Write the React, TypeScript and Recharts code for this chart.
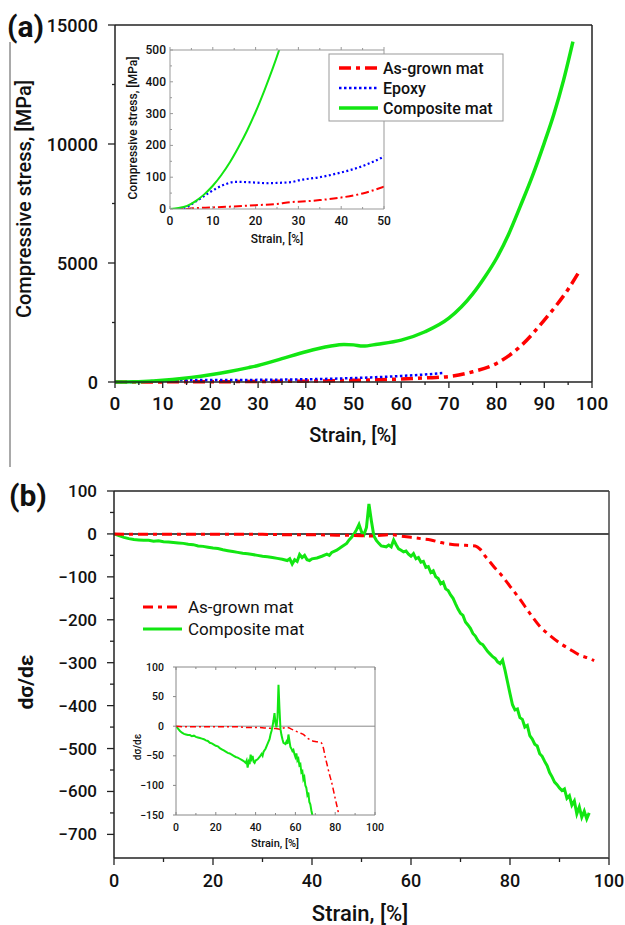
import React from 'react';
import { LineChart, Line, XAxis, YAxis, ReferenceLine } from 'recharts';

const FONT = 'Roboto, "DejaVu Sans", sans-serif';

// ---------- Panel (a): compressive stress vs strain, [strain %, stress MPa]
const COMPOSITE_A: [number, number][] = [
  [0, 0], [2, 3], [4, 10], [6, 25], [8, 46], [10, 73], [12, 107], [14, 147], [16, 194], [18, 246],
  [20, 305], [22, 371], [24, 442], [26, 520], [28, 605], [30, 695], [35, 980], [40, 1270], [45, 1500],
  [48, 1580], [50, 1560], [52, 1510], [55, 1590], [60, 1760], [65, 2110], [70, 2680], [75, 3700],
  [77.5, 4400], [80, 5200], [82.5, 6200], [85, 7400], [87.5, 8650], [90, 10050], [92, 11250],
  [94, 12650], [96, 14300],
];
const EPOXY_A: [number, number][] = [
  [0, 0], [2, 0], [3.5, 3], [5, 15], [7, 32], [9, 50], [11, 66], [13, 78], [15, 85], [17, 85],
  [20, 83], [23, 81], [25, 82], [28.5, 85], [30, 90], [35, 100], [40, 115], [45, 135], [50, 165],
  [55, 205], [60, 255], [65, 315], [69, 380],
];
const ASGROWN_A: [number, number][] = [
  [0, 0], [3.5, 0], [5, 2], [10, 5], [13, 7], [15, 8], [20, 12], [25, 16], [28.5, 22], [30, 23],
  [35, 28], [40, 36], [45, 49], [50, 70], [55, 95], [60, 125], [65, 170], [70, 230], [75, 430],
  [80, 780], [85, 1500], [90, 2600], [95, 3900], [97.5, 4700],
];

// ---------- Panel (b): dσ/dε vs strain
const COMPOSITE_B: [number, number][] = [
  [0, 0], [1, -4], [2, -8], [3, -11], [4, -13], [5, -14], [6, -15], [7, -15], [8, -17], [9, -16],
  [10, -18], [11, -19], [12, -20], [13, -21], [14, -22], [15, -24], [16, -25], [17, -28], [18, -29],
  [19, -31], [20, -33], [21, -34], [22, -37], [23, -39], [24, -41], [25, -43], [26, -45], [27, -46],
  [28, -48], [29, -50], [30, -52], [31, -53], [32, -55], [33, -57], [34, -59], [35, -62], [35.5, -58],
  [36, -70], [36.5, -60], [37, -64], [37.5, -48], [38, -55], [38.5, -50], [39, -60], [39.5, -62],
  [40, -58], [41, -56], [42, -52], [43, -47], [43.5, -50], [44, -43], [45, -38], [46, -30], [47, -22],
  [47.5, -14], [48, -8], [48.5, 0], [49, 10], [49.5, 22], [50, 5], [50.5, -2], [51, 15], [51.5, 70],
  [52, 30], [52.5, -5], [53, -15], [53.5, -22], [54, -28], [55, -30], [55.5, -26], [56, -30],
  [56.5, -14], [57, -25], [57.5, -35], [58, -38], [58.5, -42], [59, -40], [59.5, -47], [60, -52],
  [60.5, -46], [61, -58], [61.5, -55], [62, -66], [62.5, -64], [63, -78], [63.5, -76], [64, -90],
  [64.5, -86], [65, -100], [65.5, -104], [66, -116], [66.5, -112], [67, -128], [67.5, -132],
  [68, -142], [68.5, -150], [69, -163], [69.5, -175], [70, -185], [70.5, -190], [71, -205],
  [71.5, -212], [72, -220], [72.5, -232], [73, -238], [73.5, -248], [74, -255], [74.5, -258],
  [75, -266], [75.5, -274], [76, -280], [76.5, -286], [77, -290], [77.5, -298], [78, -302],
  [78.5, -294], [79, -318], [79.5, -345], [80, -372], [80.5, -398], [81, -410], [81.5, -408],
  [82, -428], [82.5, -432], [83, -450], [83.5, -446], [84, -470], [84.5, -478], [85, -490],
  [85.5, -494], [86, -512], [86.5, -518], [87, -530], [87.5, -540], [88, -556], [88.5, -566],
  [89, -578], [89.5, -584], [90, -592], [90.5, -598], [91, -594], [91.5, -616], [92, -610],
  [92.5, -632], [93, -622], [93.5, -652], [94, -636], [94.5, -660], [95, -646], [95.5, -664],
  [96, -650],
];
const ASGROWN_B: [number, number][] = [
  [0, 0], [5, -1], [10, -1], [15, -1], [20, -1], [25, -1], [30, -1], [35, -2], [40, -2], [45, -3],
  [50, -4], [52, -5], [54, -3], [56, -2], [58, -5], [60, -8], [62, -11], [64, -14], [66, -20],
  [68, -24], [70, -26], [72, -27], [73, -28], [74, -36], [75, -52], [76, -66], [77, -80], [78, -92],
  [80, -122], [82, -152], [84, -185], [86, -215], [88, -236], [90, -254], [92, -268], [94, -282],
  [96, -290], [97, -295],
];

// ---------- tick values
const A_X_TICKS = [0, 5, 10, 15, 20, 25, 30, 35, 40, 45, 50, 55, 60, 65, 70, 75, 80, 85, 90, 95, 100];
const A_Y_TICKS = [0, 2500, 5000, 7500, 10000, 12500, 15000];
const AI_X_TICKS = [0, 5, 10, 15, 20, 25, 30, 35, 40, 45, 50];
const AI_Y_TICKS = [0, 50, 100, 150, 200, 250, 300, 350, 400, 450, 500];
const B_X_TICKS = [0, 10, 20, 30, 40, 50, 60, 70, 80, 90, 100];
const B_Y_TICKS = [100, 50, 0, -50, -100, -150, -200, -250, -300, -350, -400, -450, -500, -550, -600, -650, -700];
const BI_X_TICKS = [0, 10, 20, 30, 40, 50, 60, 70, 80, 90, 100];
const BI_Y_TICKS = [100, 50, 0, -50, -100, -150];

const pts = (a: [number, number][]) => a.map(([x, y]) => ({ x, y }));

const RED = '#ff0000';
const BLUE = '#0000ff';
const GREEN = '#12e612';

type TickCfg = {
  side: 'bottom' | 'top' | 'left' | 'right';
  step: number;
  major: number;
  minor: number;
  out: boolean;
  label: boolean;
  off: number;
  size: number;
  weight: number;
  color: string;
  lw: number;
};

const fmt = (v: number) => (v < 0 ? '\u2212' + Math.abs(v) : String(v));

function tickFn(c: TickCfg) {
  return (p: any) => {
    const { x, y, payload } = p;
    const v = Number(payload.value);
    const isMajor = Math.abs(v / c.step - Math.round(v / c.step)) < 1e-6;
    const len = isMajor ? c.major : c.minor;
    const d = c.out ? 1 : -1;
    let x2 = x, y2 = y, tx = x, ty = y;
    let anchor: any = 'middle';
    if (c.side === 'bottom') { y2 = y + d * len; ty = y + c.off; }
    else if (c.side === 'top') { y2 = y - d * len; ty = y - c.off; }
    else if (c.side === 'left') { x2 = x - d * len; tx = x - c.off; anchor = 'end'; }
    else { x2 = x + d * len; tx = x + c.off; anchor = 'start'; }
    return (
      <g>
        {len > 0 && <line x1={x} y1={y} x2={x2} y2={y2} stroke={c.color} strokeWidth={c.lw} />}
        {c.label && isMajor && (
          <text x={tx} y={ty} textAnchor={anchor} dominantBaseline="central" fontFamily={FONT}
            fontSize={c.size} fontWeight={c.weight} fill="#111">{fmt(v)}</text>
        )}
      </g>
    );
  };
}

const base = { size: 17, weight: 500, color: '#222', lw: 1.3 };

function ChartA() {
  const ax = { stroke: '#222', strokeWidth: 1.5 };
  return (
    <div style={{ position: 'absolute', left: 0, top: 0 }}>
      <LineChart width={625} height={460} margin={{ top: 24, right: 32, bottom: 0, left: 0 }}>
        <XAxis xAxisId="b" dataKey="x" type="number" domain={[0, 100]} ticks={A_X_TICKS} interval={0}
          height={78} tickSize={0} tickMargin={0} axisLine={ax} tickLine={false}
          tick={tickFn({ ...base, side: 'bottom', step: 10, major: 6, minor: 3, out: true, label: true, off: 21, size: 19 })} />
        <XAxis xAxisId="t" orientation="top" dataKey="x" type="number" domain={[0, 100]} ticks={A_X_TICKS} interval={0}
          height={1} tickSize={0} tickMargin={0} axisLine={ax} tickLine={false}
          tick={tickFn({ ...base, side: 'top', step: 10, major: 6, minor: 3, out: true, label: false, off: 0 })} />
        <YAxis yAxisId="l" type="number" domain={[0, 15000]} ticks={A_Y_TICKS} interval={0} width={115}
          tickSize={0} tickMargin={0} axisLine={ax} tickLine={false}
          tick={tickFn({ ...base, side: 'left', step: 5000, major: 7, minor: 3, out: true, label: true, off: 17, size: 18 })} />
        <YAxis yAxisId="r" orientation="right" type="number" domain={[0, 15000]} width={1}
          axisLine={ax} tick={false} tickLine={false} />
        <Line xAxisId="b" yAxisId="l" data={pts(ASGROWN_A)} dataKey="y" type="monotone" stroke={RED}
          strokeWidth={3.5} strokeDasharray="12 5 4 5" dot={false} isAnimationActive={false} />
        <Line xAxisId="b" yAxisId="l" data={pts(EPOXY_A)} dataKey="y" type="monotone" stroke={BLUE}
          strokeWidth={2.5} strokeDasharray="2.5 2.5" dot={false} isAnimationActive={false} />
        <Line xAxisId="b" yAxisId="l" data={pts(COMPOSITE_A)} dataKey="y" type="monotone" stroke={GREEN}
          strokeWidth={3.5} dot={false} isAnimationActive={false} />
      </LineChart>
    </div>
  );
}

function InsetA() {
  const ax = { stroke: '#999', strokeWidth: 1 };
  const ib = { size: 12, weight: 500, color: '#999', lw: 1 };
  return (
    <div style={{ position: 'absolute', left: 110, top: 40 }}>
      <LineChart width={290} height={200} margin={{ top: 9, right: 15, bottom: 0, left: 0 }}>
        <XAxis xAxisId="b" dataKey="x" type="number" domain={[0, 50]} ticks={AI_X_TICKS} interval={0}
          allowDataOverflow height={31} tickSize={0} tickMargin={0} axisLine={ax} tickLine={false}
          tick={tickFn({ ...ib, side: 'bottom', step: 10, major: 3, minor: 2, out: false, label: true, off: 12 })} />
        <XAxis xAxisId="t" orientation="top" dataKey="x" type="number" domain={[0, 50]} ticks={AI_X_TICKS} interval={0}
          allowDataOverflow height={1} tickSize={0} tickMargin={0} axisLine={ax} tickLine={false}
          tick={tickFn({ ...ib, side: 'top', step: 10, major: 3, minor: 2, out: true, label: false, off: 0 })} />
        <YAxis yAxisId="l" type="number" domain={[0, 500]} ticks={AI_Y_TICKS} interval={0} width={60}
          allowDataOverflow tickSize={0} tickMargin={0} axisLine={ax} tickLine={false}
          tick={tickFn({ ...ib, side: 'left', step: 100, major: 3, minor: 2, out: false, label: true, off: 4 })} />
        <YAxis yAxisId="r" orientation="right" type="number" domain={[0, 500]} width={1} allowDataOverflow
          axisLine={ax} tick={false} tickLine={false} />
        <Line xAxisId="b" yAxisId="l" data={pts(ASGROWN_A)} dataKey="y" type="monotone" stroke={RED}
          strokeWidth={2} strokeDasharray="8 3 2 3" dot={false} isAnimationActive={false} />
        <Line xAxisId="b" yAxisId="l" data={pts(EPOXY_A)} dataKey="y" type="monotone" stroke={BLUE}
          strokeWidth={2.2} strokeDasharray="2 2.5" dot={false} isAnimationActive={false} />
        <Line xAxisId="b" yAxisId="l" data={pts(COMPOSITE_A)} dataKey="y" type="monotone" stroke={GREEN}
          strokeWidth={2} dot={false} isAnimationActive={false} />
      </LineChart>
    </div>
  );
}

function ChartB() {
  const ax = { stroke: '#222', strokeWidth: 1.5 };
  return (
    <div style={{ position: 'absolute', left: 0, top: 470 }}>
      <LineChart width={625} height={430} margin={{ top: 20, right: 15, bottom: 0, left: 0 }}>
        <XAxis xAxisId="b" dataKey="x" type="number" domain={[0, 100]} ticks={B_X_TICKS} interval={0}
          height={42} tickSize={0} tickMargin={0} axisLine={ax} tickLine={false}
          tick={tickFn({ ...base, side: 'bottom', step: 20, major: 7, minor: 4, out: true, label: true, off: 22, size: 18 })} />
        <XAxis xAxisId="t" orientation="top" dataKey="x" type="number" domain={[0, 100]} ticks={B_X_TICKS} interval={0}
          height={1} tickSize={0} tickMargin={0} axisLine={ax} tickLine={false}
          tick={tickFn({ ...base, side: 'top', step: 20, major: 7, minor: 6, out: true, label: false, off: 0 })} />
        <YAxis yAxisId="l" type="number" domain={[-755, 100]} ticks={B_Y_TICKS} interval={0} width={114}
          tickSize={0} tickMargin={0} axisLine={ax} tickLine={false}
          tick={tickFn({ ...base, side: 'left', step: 100, major: 7, minor: 4, out: true, label: true, off: 17, size: 17 })} />
        <YAxis yAxisId="r" orientation="right" type="number" domain={[-755, 100]} width={1}
          axisLine={{ stroke: '#444', strokeWidth: 1.5 }} tick={false} tickLine={false} />
        <ReferenceLine xAxisId="b" yAxisId="l" y={0} stroke="#111" strokeWidth={1.5} />
        <Line xAxisId="b" yAxisId="l" data={pts(COMPOSITE_B)} dataKey="y" type="linear" stroke={GREEN}
          strokeWidth={3} dot={false} isAnimationActive={false} />
        <Line xAxisId="b" yAxisId="l" data={pts(ASGROWN_B)} dataKey="y" type="monotone" stroke={RED}
          strokeWidth={3} strokeDasharray="10 5 4 5" dot={false} isAnimationActive={false} />
      </LineChart>
    </div>
  );
}

function InsetB() {
  const ax = { stroke: '#888', strokeWidth: 1 };
  const ib = { size: 10.5, weight: 500, color: '#888', lw: 1 };
  return (
    <div style={{ position: 'absolute', left: 130, top: 655 }}>
      <LineChart width={260} height={185} margin={{ top: 11, right: 14, bottom: 0, left: 0 }}>
        <XAxis xAxisId="b" dataKey="x" type="number" domain={[0, 100]} ticks={BI_X_TICKS} interval={0}
          allowDataOverflow height={25} tickSize={0} tickMargin={0} axisLine={ax} tickLine={false}
          tick={tickFn({ ...ib, side: 'bottom', step: 20, major: 3, minor: 2, out: false, label: true, off: 12 })} />
        <XAxis xAxisId="t" orientation="top" dataKey="x" type="number" domain={[0, 100]} ticks={BI_X_TICKS} interval={0}
          allowDataOverflow height={1} tickSize={0} tickMargin={0} axisLine={ax} tickLine={false}
          tick={tickFn({ ...ib, side: 'top', step: 20, major: 3, minor: 2, out: false, label: false, off: 0 })} />
        <YAxis yAxisId="l" type="number" domain={[-150, 100]} ticks={BI_Y_TICKS} interval={0} width={46}
          allowDataOverflow tickSize={0} tickMargin={0} axisLine={ax} tickLine={false}
          tick={tickFn({ ...ib, side: 'left', step: 50, major: 3, minor: 2, out: true, label: true, off: 12 })} />
        <YAxis yAxisId="r" orientation="right" type="number" domain={[-150, 100]} width={1} allowDataOverflow
          axisLine={ax} tick={false} tickLine={false} />
        <ReferenceLine xAxisId="b" yAxisId="l" y={0} stroke="#888" strokeWidth={1} />
        <Line xAxisId="b" yAxisId="l" data={pts(COMPOSITE_B)} dataKey="y" type="linear" stroke={GREEN}
          strokeWidth={2} dot={false} isAnimationActive={false} />
        <Line xAxisId="b" yAxisId="l" data={pts(ASGROWN_B)} dataKey="y" type="monotone" stroke={RED}
          strokeWidth={1.5} strokeDasharray="6 3 2 3" dot={false} isAnimationActive={false} />
      </LineChart>
    </div>
  );
}

function Overlay() {
  const t = (x: number, y: number, s: string, size: number, weight: number, opts: any = {}) => (
    <text x={x} y={y} fontFamily={FONT} fontSize={size} fontWeight={weight} fill="#111"
      dominantBaseline="central" textAnchor={opts.anchor || 'middle'}
      transform={opts.rot ? `rotate(-90 ${x} ${y})` : undefined}>{s}</text>
  );
  return (
    <svg width={625} height={925} style={{ position: 'absolute', left: 0, top: 0, pointerEvents: 'none' }}>
      <line x1={10} y1={42} x2={10} y2={467} stroke="#555" strokeWidth={1} />
      {t(7, 26, '(a)', 30, 700, { anchor: 'start' })}
      {t(9, 495, '(b)', 30, 700, { anchor: 'start' })}
      {t(24, 199, 'Compressive stress, [MPa]', 20, 500, { rot: true })}
      {t(353, 435, 'Strain, [%]', 20, 500)}
      {t(133, 128, 'Compressive stress, [MPa]', 12, 500, { rot: true })}
      {t(277, 239, 'Strain, [%]', 12, 500)}
      {t(26, 682, 'd\u03c3/d\u03b5', 21, 700, { rot: true })}
      {t(360, 913, 'Strain, [%]', 22, 500)}
      {t(137, 747, 'd\u03c3/d\u03b5', 10, 500, { rot: true })}
      {t(275, 843, 'Strain, [%]', 11, 500)}
      {/* legend (a) */}
      <rect x={329} y={54} width={174} height={67} fill="#fff" stroke="#999" strokeWidth={1} />
      <line x1={339} y1={68} x2={378} y2={68} stroke={RED} strokeWidth={3.5} strokeDasharray="12 5 4 5" />
      <line x1={339} y1={88} x2={378} y2={88} stroke={BLUE} strokeWidth={2.5} strokeDasharray="2.5 2.5" />
      <line x1={339} y1={108} x2={378} y2={108} stroke={GREEN} strokeWidth={3.5} />
      {t(383, 68, 'As-grown mat', 16, 500, { anchor: 'start' })}
      {t(383, 88, 'Epoxy', 16, 500, { anchor: 'start' })}
      {t(383, 108, 'Composite mat', 16, 500, { anchor: 'start' })}
      {/* legend (b) */}
      <line x1={143} y1={607} x2={182} y2={607} stroke={RED} strokeWidth={3} strokeDasharray="10 5 4 5" />
      <line x1={143} y1={629} x2={182} y2={629} stroke={GREEN} strokeWidth={3} />
      {t(188, 607, 'As-grown mat', 17, 400, { anchor: 'start' })}
      {t(188, 629, 'Composite mat', 17, 400, { anchor: 'start' })}
    </svg>
  );
}

export default function App() {
  return (
    <div style={{ position: 'absolute', left: 0, top: 0, width: 625, height: 925, background: '#fff', overflow: 'hidden' }}>
      <ChartA />
      <InsetA />
      <ChartB />
      <InsetB />
      <Overlay />
    </div>
  );
}
